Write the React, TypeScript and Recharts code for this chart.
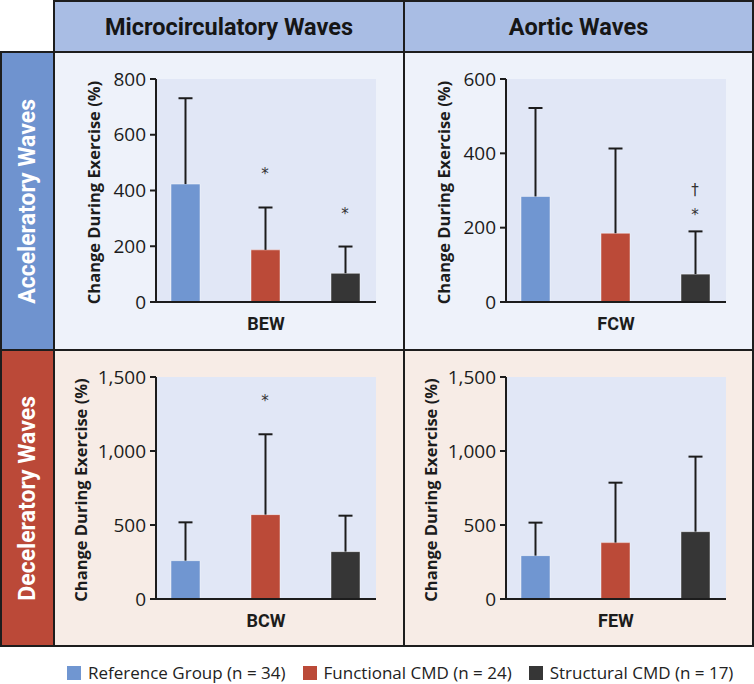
import React from 'react';
import { BarChart, Bar, XAxis, YAxis, CartesianGrid, Cell, ReferenceDot } from 'recharts';

// groups and colours
const groups = ['Reference Group (n = 34)', 'Functional CMD (n = 24)', 'Structural CMD (n = 17)'];
const groupColors = ['#7096d1', '#bb4a38', '#363636'];

// mean change during exercise (%) and SD, per wave
const bewMean = [423, 187, 103];
const bewSd = [308, 152, 96];
const fcwMean = [284, 185, 75];
const fcwSd = [238, 228, 115];
const bcwMean = [259, 570, 320];
const bcwSd = [259, 543, 243];
const fewMean = [293, 381, 455];
const fewSd = [223, 405, 507];

const ticks800 = [0, 200, 400, 600, 800];
const ticks600 = [0, 200, 400, 600];
const ticks1500 = [0, 500, 1000, 1500];

// significance marks: group index, value, symbol
const bewMarks = [
  { pos: 1, y: 472, sym: '*' },
  { pos: 2, y: 331, sym: '*' },
];
const fcwMarks = [
  { pos: 2, y: 244, sym: '*' },
  { pos: 2, y: 302, sym: '†' },
];
const bcwMarks = [{ pos: 1, y: 1362, sym: '*' }];
const fewMarks: { pos: number; y: number; sym: string }[] = [];

const INK = '#1c1c1c';

function Whisker(props: any) {
  const { x, y, width, height } = props;
  if (x == null || y == null) return null;
  const cx = x + width / 2;
  return (
    <g>
      <line x1={cx} x2={cx} y1={y} y2={y + height} stroke={INK} strokeWidth={2} />
      <line x1={cx - 7} x2={cx + 7} y1={y} y2={y} stroke={INK} strokeWidth={2} />
    </g>
  );
}

function Panel({ width, height, mean, sd, ticks, name, marks, bottom, labelX }: any) {
  const data = mean.map((m: number, i: number) => ({ pos: i, mean: m, sd: sd[i] }));
  return (
    <BarChart
      width={width}
      height={height}
      data={data}
      margin={{ top: 26, right: width - 321, bottom: 0, left: 0 }}
      barSize={29}
    >
      <CartesianGrid fill="#e1e7f6" stroke="none" horizontal={false} vertical={false} />
      <XAxis
        dataKey="pos"
        type="number"
        domain={[-0.3625, 2.3875]}
        ticks={[0, 1, 2]}
        tick={false}
        tickSize={6}
        height={bottom}
        axisLine={{ stroke: INK, strokeWidth: 2 }}
        tickLine={{ stroke: INK, strokeWidth: 2 }}
        label={(p: any) => {
          const vb = p.viewBox;
          return (
            <text
              x={vb.x + vb.width / 2}
              y={vb.y + 28}
              textAnchor="middle"
              fontFamily="Roboto"
              fontWeight={700}
              fontSize={18}
              fill={INK}
            >
              {name}
            </text>
          );
        }}
      />
      <YAxis
        width={101}
        domain={[0, ticks[ticks.length - 1]]}
        ticks={ticks}
        interval={0}
        tickSize={6}
        tickMargin={4}
        axisLine={{ stroke: INK, strokeWidth: 2 }}
        tickLine={{ stroke: INK, strokeWidth: 2 }}
        tick={{ fill: INK, fontSize: 19, fontFamily: 'Open Sans' }}
        tickFormatter={(v: number) => v.toLocaleString('en-US')}
        label={(p: any) => {
          const vb = p.viewBox;
          const lx = vb.x + labelX;
          const ly = vb.y + vb.height / 2 + 2;
          return (
            <text
              x={lx}
              y={ly}
              transform={`rotate(-90, ${lx}, ${ly})`}
              textAnchor="middle"
              dominantBaseline="central"
              fontFamily="Open Sans"
              fontWeight={700}
              fontSize={16.5}
              fill={INK}
            >
              Change During Exercise (%)
            </text>
          );
        }}
      />
      <Bar dataKey="mean" stackId="s" isAnimationActive={false} stroke="rgba(255,255,255,0.45)" strokeWidth={1}>
        {data.map((_: any, i: number) => (
          <Cell key={i} fill={groupColors[i]} />
        ))}
      </Bar>
      <Bar dataKey="sd" stackId="s" isAnimationActive={false} shape={Whisker} />
      {marks.map((m: any, i: number) => (
        <ReferenceDot
          key={i}
          x={m.pos}
          y={m.y}
          r={0}
          shape={(p: any) => (
            <text
              x={p.cx}
              y={p.cy + (m.sym === '*' ? 9 : 5)}
              textAnchor="middle"
              fontFamily="DejaVu Sans"
              fontSize={15}
              fill="#333"
            >
              {m.sym}
            </text>
          )}
        />
      ))}
    </BarChart>
  );
}

const headerStyle: React.CSSProperties = {
  background: '#a9bde4',
  display: 'flex',
  alignItems: 'center',
  justifyContent: 'center',
  fontFamily: 'Roboto',
  fontWeight: 700,
  fontSize: 23.5,
  color: '#161616',
};

const sideStyle = (bg: string): React.CSSProperties => ({
  background: bg,
  display: 'flex',
  alignItems: 'center',
  justifyContent: 'center',
});

const sideText: React.CSSProperties = {
  writingMode: 'vertical-rl',
  transform: 'rotate(180deg)',
  fontFamily: 'Roboto',
  fontWeight: 700,
  fontSize: 23,
  color: '#ffffff',
  whiteSpace: 'nowrap',
};

export default function App() {
  return (
    <div style={{ position: 'relative', width: 754, height: 684, background: '#fff' }}>
      <style>{'body{margin:0}'}</style>
      <div
        style={{
          position: 'absolute',
          left: 0,
          top: 0,
          width: 754,
          height: 647,
          background: '#1d1d1d',
          display: 'grid',
          gridTemplateColumns: '51px 348px 347px',
          gridTemplateRows: '49px 296px 294px',
          gap: 2,
          padding: 2,
          boxSizing: 'border-box',
        }}
      >
        <div style={{ background: '#fff', margin: '-2px 0 0 -2px' }} />
        <div style={headerStyle}>Microcirculatory Waves</div>
        <div style={headerStyle}>Aortic Waves</div>

        <div style={sideStyle('#6f93cf')}>
          <span style={sideText}>Acceleratory Waves</span>
        </div>
        <div style={{ background: '#eef2fa' }}>
          <Panel width={348} height={296} mean={bewMean} sd={bewSd} ticks={ticks800} name="BEW" marks={bewMarks} bottom={47} labelX={38} />
        </div>
        <div style={{ background: '#eef2fa' }}>
          <Panel width={347} height={296} mean={fcwMean} sd={fcwSd} ticks={ticks600} name="FCW" marks={fcwMarks} bottom={47} labelX={38} />
        </div>

        <div style={sideStyle('#bb4938')}>
          <span style={sideText}>Deceleratory Waves</span>
        </div>
        <div style={{ background: '#f7ece6' }}>
          <Panel width={348} height={294} mean={bcwMean} sd={bcwSd} ticks={ticks1500} name="BCW" marks={bcwMarks} bottom={46} labelX={25} />
        </div>
        <div style={{ background: '#f7ece6' }}>
          <Panel width={347} height={294} mean={fewMean} sd={fewSd} ticks={ticks1500} name="FEW" marks={fewMarks} bottom={46} labelX={25} />
        </div>
      </div>

      <div
        style={{
          position: 'absolute',
          left: 67,
          top: 663,
          display: 'flex',
          gap: 17,
          alignItems: 'center',
          fontFamily: 'Open Sans',
          fontSize: 17,
          color: '#222',
          whiteSpace: 'nowrap',
        }}
      >
        {groups.map((g, i) => (
          <div key={g} style={{ display: 'flex', alignItems: 'center', gap: 7 }}>
            <div style={{ width: 14, height: 14, background: groupColors[i] }} />
            <span style={{ lineHeight: '20px' }}>{g}</span>
          </div>
        ))}
      </div>
    </div>
  );
}
